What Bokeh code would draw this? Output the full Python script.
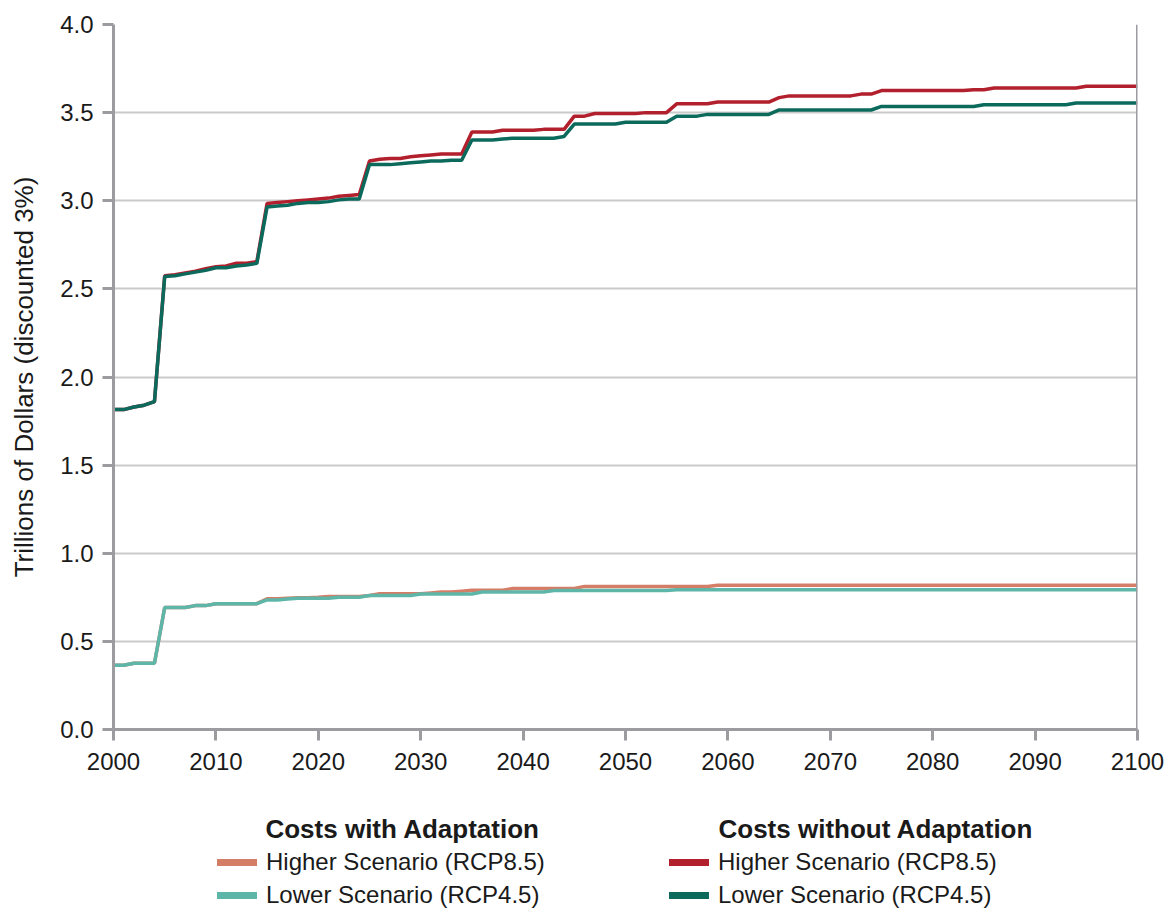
from bokeh.plotting import figure
from bokeh.layouts import column
from bokeh.models import Range1d, Span, Legend, LegendItem, Label, FixedTicker, PrintfTickFormatter
from bokeh.embed import file_html
from bokeh.resources import INLINE

years = list(range(2000, 2101))

# Costs without adaptation, higher scenario (RCP8.5)
without_high = (
    [1.815, 1.815, 1.83, 1.84, 1.86]
    + [2.575, 2.58, 2.59, 2.60, 2.615, 2.625, 2.63, 2.645, 2.645, 2.655]
    + [2.985, 2.99, 2.995, 3.00, 3.005, 3.01, 3.015, 3.025, 3.03, 3.035]
    + [3.225, 3.235, 3.24, 3.24, 3.25, 3.255, 3.26, 3.265, 3.265, 3.265]
    + [3.39, 3.39, 3.39, 3.40, 3.40, 3.40, 3.40, 3.405, 3.405, 3.405]
    + [3.48, 3.48, 3.495, 3.495, 3.495, 3.495, 3.495, 3.50, 3.50, 3.50]
    + [3.55, 3.55, 3.55, 3.55, 3.56, 3.56, 3.56, 3.56, 3.56, 3.56]
    + [3.585, 3.595, 3.595, 3.595, 3.595, 3.595, 3.595, 3.595, 3.605, 3.605]
    + [3.625, 3.625, 3.625, 3.625, 3.625, 3.625, 3.625, 3.625, 3.625, 3.63]
    + [3.63, 3.64, 3.64, 3.64, 3.64, 3.64, 3.64, 3.64, 3.64, 3.64]
    + [3.65, 3.65, 3.65, 3.65, 3.65, 3.65]
)

# Costs without adaptation, lower scenario (RCP4.5)
without_low = (
    [1.815, 1.815, 1.83, 1.84, 1.86]
    + [2.57, 2.575, 2.585, 2.595, 2.605, 2.62, 2.62, 2.63, 2.635, 2.645]
    + [2.965, 2.97, 2.975, 2.985, 2.99, 2.99, 2.995, 3.005, 3.01, 3.01]
    + [3.205, 3.205, 3.205, 3.21, 3.215, 3.22, 3.225, 3.225, 3.23, 3.23]
    + [3.345, 3.345, 3.345, 3.35, 3.355, 3.355, 3.355, 3.355, 3.355, 3.365]
    + [3.435, 3.435, 3.435, 3.435, 3.435, 3.445, 3.445, 3.445, 3.445, 3.445]
    + [3.48, 3.48, 3.48, 3.49, 3.49, 3.49, 3.49, 3.49, 3.49, 3.49]
    + [3.515, 3.515, 3.515, 3.515, 3.515, 3.515, 3.515, 3.515, 3.515, 3.515]
    + [3.535, 3.535, 3.535, 3.535, 3.535, 3.535, 3.535, 3.535, 3.535, 3.535]
    + [3.545, 3.545, 3.545, 3.545, 3.545, 3.545, 3.545, 3.545, 3.545, 3.555]
    + [3.555, 3.555, 3.555, 3.555, 3.555, 3.555]
)

# Costs with adaptation, higher scenario (RCP8.5)
with_high = (
    [0.365, 0.365, 0.376, 0.376, 0.376]
    + [0.692, 0.692, 0.692, 0.703, 0.703, 0.714, 0.714, 0.714, 0.714, 0.714]
    + [0.742, 0.742, 0.745, 0.748, 0.748, 0.75, 0.755, 0.755, 0.755, 0.755]
    + [0.76, 0.77, 0.77, 0.77, 0.77, 0.77, 0.775, 0.78, 0.78, 0.785]
    + [0.79, 0.79, 0.79, 0.79, 0.80, 0.80, 0.80, 0.80, 0.80, 0.80]
    + [0.80, 0.812, 0.812, 0.812, 0.812, 0.812, 0.812, 0.812, 0.812, 0.812]
    + [0.812, 0.812, 0.812, 0.812, 0.818, 0.818, 0.818, 0.818, 0.818, 0.818]
    + [0.818] * 10
    + [0.818] * 10
    + [0.818] * 10
    + [0.818] * 6
)

# Costs with adaptation, lower scenario (RCP4.5)
with_low = (
    [0.365, 0.365, 0.376, 0.376, 0.376]
    + [0.692, 0.692, 0.692, 0.703, 0.703, 0.714, 0.714, 0.714, 0.714, 0.714]
    + [0.735, 0.735, 0.74, 0.745, 0.745, 0.745, 0.745, 0.75, 0.75, 0.75]
    + [0.76, 0.76, 0.76, 0.76, 0.76, 0.769, 0.769, 0.769, 0.769, 0.769]
    + [0.769, 0.78, 0.78, 0.78, 0.78, 0.78, 0.78, 0.78, 0.788, 0.788]
    + [0.788] * 10
    + [0.793] * 10
    + [0.793] * 10
    + [0.793] * 10
    + [0.793] * 10
    + [0.793] * 6
)

x_ticks = [2000, 2010, 2020, 2030, 2040, 2050, 2060, 2070, 2080, 2090, 2100]
y_ticks = [0.0, 0.5, 1.0, 1.5, 2.0, 2.5, 3.0, 3.5, 4.0]

C_WITH_HIGH = "#d47e68"
C_WITH_LOW = "#5db6a8"
C_WO_HIGH = "#b21f2d"
C_WO_LOW = "#0c6a5c"
AXIS = "#9c9ca0"
TXT = "#1a1a1a"
FONT = "Liberation Sans"

p = figure(width=1173, height=800, output_backend="svg", toolbar_location=None,
           x_range=Range1d(2000, 2100), y_range=Range1d(0, 4),
           min_border_left=113, min_border_right=36, min_border_top=24,
           min_border_bottom=71)
p.outline_line_color = None

p.xgrid.visible = False
p.ygrid.grid_line_color = "#cacaca"
p.ygrid.grid_line_width = 2

p.xaxis.ticker = FixedTicker(ticks=x_ticks)
p.yaxis.ticker = FixedTicker(ticks=y_ticks)
p.yaxis.formatter = PrintfTickFormatter(format="%.1f")
for ax in (p.xaxis, p.yaxis):
    ax.axis_line_color = AXIS
    ax.axis_line_width = 3
    ax.major_tick_line_color = AXIS
    ax.major_tick_line_width = 3
    ax.major_tick_in = 0
    ax.major_tick_out = 11
    ax.minor_tick_line_color = None
    ax.major_label_text_font = FONT
    ax.major_label_text_font_size = "24px"
    ax.major_label_text_color = TXT
p.xaxis.major_label_standoff = 12
p.yaxis.major_label_standoff = 9
p.yaxis.axis_label = "Trillions of Dollars (discounted 3%)"
p.yaxis.axis_label_text_font = FONT
p.yaxis.axis_label_text_font_size = "26px"
p.yaxis.axis_label_text_font_style = "normal"
p.yaxis.axis_label_text_color = TXT
p.yaxis.axis_label_standoff = 18

p.add_layout(Span(location=2100, dimension="height", line_color=AXIS, line_width=3))

p.line(years, with_high, line_color=C_WITH_HIGH, line_width=3.5)
p.line(years, with_low, line_color=C_WITH_LOW, line_width=3.5)
p.line(years, without_high, line_color=C_WO_HIGH, line_width=3.5)
p.line(years, without_low, line_color=C_WO_LOW, line_width=3.5)

# ---- legend panel below the chart (frame aligned with the chart's frame) ----
lf = figure(width=1173, height=109, output_backend="svg", toolbar_location=None,
            x_range=Range1d(2000, 2100), y_range=Range1d(0, 109),
            min_border_left=113, min_border_right=36, min_border_top=0, min_border_bottom=0)
lf.axis.visible = False
lf.grid.visible = False
lf.outline_line_color = None

series = {"wh": (with_high, C_WITH_HIGH), "wl": (with_low, C_WITH_LOW),
          "oh": (without_high, C_WO_HIGH), "ol": (without_low, C_WO_LOW)}
sw = {}
for key, (vals, col) in series.items():
    # hidden renderers: only used to draw the thick legend swatches
    sw[key] = lf.line(years, vals, line_color=col, line_width=7, line_cap="round", visible=False)

def make_legend(items, loc):
    return Legend(items=items, location=loc, orientation="vertical", padding=0, margin=0,
                  border_line_color=None, background_fill_alpha=0,
                  glyph_width=40, glyph_height=24, label_height=24, spacing=5,
                  label_standoff=9, label_text_font=FONT, label_text_font_size="24px",
                  label_text_color=TXT, click_policy="none")

leg1 = make_legend([LegendItem(label="Higher Scenario (RCP8.5)", renderers=[sw["wh"]]),
                    LegendItem(label="Lower Scenario (RCP4.5)", renderers=[sw["wl"]])], (104, 0))
leg2 = make_legend([LegendItem(label="Higher Scenario (RCP8.5)", renderers=[sw["oh"]]),
                    LegendItem(label="Lower Scenario (RCP4.5)", renderers=[sw["ol"]])], (556, 0))
lf.add_layout(leg1)
lf.add_layout(leg2)

lf.add_layout(Label(x=2014.84, y=81, text="Costs with Adaptation", text_font=FONT,
                    text_font_size="26px", text_font_style="bold", text_baseline="middle",
                    text_color=TXT))
lf.add_layout(Label(x=2059.08, y=81, text="Costs without Adaptation", text_font=FONT,
                    text_font_size="26px", text_font_style="bold", text_baseline="middle",
                    text_color=TXT))

layout = column(p, lf, spacing=0)
open("out.html", "w").write(file_html(layout, INLINE))
